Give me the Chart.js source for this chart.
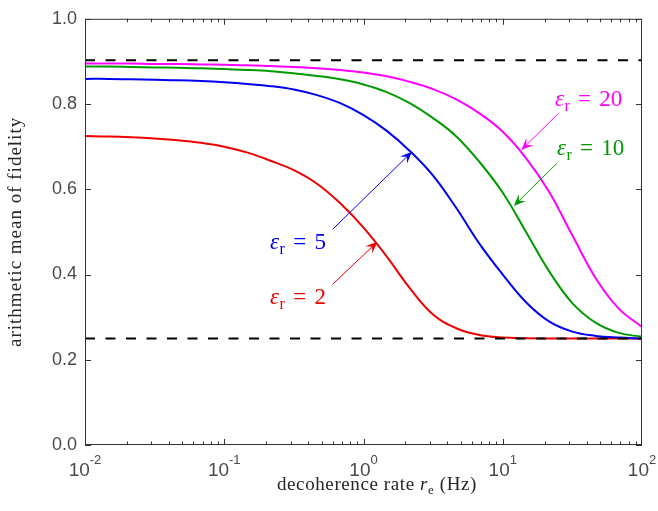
<!DOCTYPE html>
<html>
<head>
<meta charset="utf-8">
<script src="https://cdn.jsdelivr.net/npm/chart.js@4"></script>
<style>
  html, body { margin: 0; padding: 0; background: #fff; }
</style>
</head>
<body>
<canvas id="grafico" width="658" height="511"></canvas>
<script>
// dados (6 pontos por decada)
const taxas = [0.01, 0.0147, 0.0215, 0.0316, 0.0464, 0.0681,
               0.1, 0.147, 0.215, 0.316, 0.464, 0.681,
               1, 1.47, 2.15, 3.16, 4.64, 6.81,
               10, 14.7, 21.5, 31.6, 46.4, 68.1, 100];
const fidEps2  = [0.725, 0.724, 0.722, 0.719, 0.715, 0.709,
                  0.700, 0.686, 0.667, 0.645, 0.613, 0.567,
                  0.510, 0.442, 0.368, 0.306, 0.274, 0.258,
                  0.252, 0.2505, 0.250, 0.250, 0.250, 0.250, 0.250];
const fidEps5  = [0.859, 0.859, 0.858, 0.857, 0.856, 0.854,
                  0.851, 0.847, 0.842, 0.834, 0.821, 0.802,
                  0.774, 0.737, 0.690, 0.632, 0.556, 0.472,
                  0.400, 0.335, 0.290, 0.266, 0.256, 0.252, 0.250];
const fidEps10 = [0.888, 0.888, 0.887, 0.886, 0.885, 0.884,
                  0.882, 0.880, 0.877, 0.872, 0.866, 0.858,
                  0.846, 0.828, 0.802, 0.767, 0.724, 0.664,
                  0.592, 0.500, 0.408, 0.333, 0.287, 0.263, 0.254];
const fidEps20 = [0.895, 0.895, 0.895, 0.894, 0.894, 0.893,
                  0.892, 0.891, 0.889, 0.887, 0.884, 0.880,
                  0.874, 0.865, 0.852, 0.835, 0.811, 0.778,
                  0.735, 0.673, 0.594, 0.492, 0.392, 0.320, 0.277];
const limiteSup = 0.903;
const limiteInf = 0.25;

const ticksX = [0.01, 0.1, 1, 10, 100];
const expoentesX = ['-2', '-1', '0', '1', '2'];
const ticksY = [0, 0.2, 0.4, 0.6, 0.8, 1.0];

const corVermelho = '#ee0000';
const corAzul = '#0000f0';
const corVerde = '#009a00';
const corMagenta = '#ff00ff';

// rotulos com seta (coordenadas em dados)
const rotulos = [
  { valor: '20', cor: corMagenta, texto: [23.7, 0.796], cauda: [25.1, 0.778], ponta: [13.6, 0.692] },
  { valor: '10', cor: corVerde,   texto: [24.5, 0.681], cauda: [24.5, 0.661], ponta: [12.0, 0.561] },
  { valor: '5',  cor: corAzul,    texto: [0.213, 0.460], cauda: [0.60, 0.506], ponta: [2.23, 0.688] },
  { valor: '2',  cor: corVermelho, texto: [0.213, 0.331], cauda: [0.60, 0.377], ponta: [1.26, 0.477] }
];

function pontos(ys) {
  return taxas.map((x, i) => ({ x: x, y: ys[i] }));
}

function serie(ys, cor) {
  return {
    data: pontos(ys),
    borderColor: cor,
    borderWidth: 2,
    pointRadius: 0,
    tension: 0.4,
    fill: false
  };
}

function tracejada(y) {
  return {
    data: [{ x: taxas[0], y: y }, { x: taxas[taxas.length - 1], y: y }],
    borderColor: '#000',
    borderWidth: 2,
    borderDash: [10, 10.5],
    pointRadius: 0,
    fill: false
  };
}

function seta(ctx, x1, y1, x2, y2, cor) {
  const ang = Math.atan2(y2 - y1, x2 - x1);
  const L = 12, W = 5;
  ctx.strokeStyle = cor;
  ctx.lineWidth = 1;
  ctx.beginPath();
  ctx.moveTo(x1, y1);
  ctx.lineTo(x2 - Math.cos(ang) * L * 0.6, y2 - Math.sin(ang) * L * 0.6);
  ctx.stroke();
  ctx.save();
  ctx.translate(x2, y2);
  ctx.rotate(ang);
  ctx.beginPath();
  ctx.moveTo(0, 0);
  ctx.lineTo(-L, -W);
  ctx.lineTo(-L * 0.6, 0);
  ctx.lineTo(-L, W);
  ctx.closePath();
  ctx.fillStyle = cor;
  ctx.fill();
  ctx.restore();
}

function textoEps(ctx, x, y, valor, cor) {
  const S = 23;
  ctx.fillStyle = cor;
  ctx.textAlign = 'left';
  ctx.textBaseline = 'alphabetic';
  ctx.font = 'italic ' + S + 'px "Liberation Serif"';
  ctx.fillText('ε', x, y);
  let cx = x + ctx.measureText('ε').width + 0.5;
  ctx.font = Math.round(S * 0.7) + 'px "Liberation Serif"';
  ctx.fillText('r', cx, y + S * 0.22);
  cx += ctx.measureText('r').width + S * 0.36;
  ctx.font = S + 'px "Liberation Serif"';
  ctx.fillText('=', cx, y);
  cx += ctx.measureText('=').width + S * 0.36;
  ctx.fillText(valor, cx, y);
}

const eixosPlugin = {
  id: 'eixos',
  afterDatasetsDraw(chart) {
    const ctx = chart.ctx;
    const sx = chart.scales.x, sy = chart.scales.y;
    ctx.save();
    rotulos.forEach(r => {
      seta(ctx, sx.getPixelForValue(r.cauda[0]), sy.getPixelForValue(r.cauda[1]),
        sx.getPixelForValue(r.ponta[0]), sy.getPixelForValue(r.ponta[1]), r.cor);
      textoEps(ctx, sx.getPixelForValue(r.texto[0]), sy.getPixelForValue(r.texto[1]), r.valor, r.cor);
    });
    ctx.restore();
  },
  afterDraw(chart) {
    const ctx = chart.ctx;
    const a = chart.chartArea;
    const sx = chart.scales.x, sy = chart.scales.y;
    ctx.save();
    ctx.strokeStyle = '#333';
    ctx.lineWidth = 1;
    ctx.strokeRect(a.left + 0.5, a.top + 0.5, a.right - a.left - 1, a.bottom - a.top - 1);

    // ticks para dentro
    ctx.beginPath();
    for (let d = -2; d <= 1; d++) {
      for (let m = 1; m <= 9; m++) {
        const v = m * Math.pow(10, d);
        const px = Math.round(sx.getPixelForValue(v)) + 0.5;
        const len = m === 1 ? 6 : 3.5;
        ctx.moveTo(px, a.bottom); ctx.lineTo(px, a.bottom - len);
        ctx.moveTo(px, a.top); ctx.lineTo(px, a.top + len);
      }
    }
    ticksY.forEach(v => {
      const py = Math.round(sy.getPixelForValue(v)) + 0.5;
      ctx.moveTo(a.left, py); ctx.lineTo(a.left + 6, py);
      ctx.moveTo(a.right, py); ctx.lineTo(a.right - 6, py);
    });
    ctx.stroke();

    // labels do eixo x (10^n)
    ctx.fillStyle = '#4a4a4a';
    ctx.textBaseline = 'alphabetic';
    ticksX.forEach((v, i) => {
      const px = sx.getPixelForValue(v);
      ctx.font = '19px "Liberation Sans"';
      const w1 = ctx.measureText('10').width;
      ctx.font = '13px "Liberation Sans"';
      const w2 = ctx.measureText(expoentesX[i]).width;
      const x0 = px - (w1 + w2) / 2;
      ctx.textAlign = 'left';
      ctx.font = '19px "Liberation Sans"';
      ctx.fillText('10', x0, 475.5);
      ctx.font = '13px "Liberation Sans"';
      ctx.fillText(expoentesX[i], x0 + w1, 464);
    });

    // titulo do eixo x
    ctx.fillStyle = '#262626';
    ctx.letterSpacing = '0.6px';
    const partes = [
      { t: 'decoherence rate ', f: '19px "Liberation Serif"', dy: 0 },
      { t: 'r', f: 'italic 19px "Liberation Serif"', dy: 0 },
      { t: 'e', f: '13px "Liberation Serif"', dy: 4 },
      { t: ' (Hz)', f: '19px "Liberation Serif"', dy: 0 }
    ];
    let total = 0;
    partes.forEach(p => { ctx.font = p.f; p.w = ctx.measureText(p.t).width; total += p.w; });
    let cx = 377 - total / 2;
    partes.forEach(p => {
      ctx.font = p.f;
      ctx.fillText(p.t, cx, 490 + p.dy);
      cx += p.w;
    });

    // titulo do eixo y
    ctx.save();
    ctx.letterSpacing = '1px';
    ctx.translate(21, (a.top + a.bottom) / 2);
    ctx.rotate(-Math.PI / 2);
    ctx.textAlign = 'center';
    ctx.font = '19px "Liberation Serif"';
    ctx.fillText('arithmetic mean of fidelity', 0, 0);
    ctx.restore();

    ctx.restore();
  }
};

const config = {
  type: 'line',
  data: {
    datasets: [
      tracejada(limiteSup),
      tracejada(limiteInf),
      serie(fidEps20, corMagenta),
      serie(fidEps10, corVerde),
      serie(fidEps5, corAzul),
      serie(fidEps2, corVermelho)
    ]
  },
  options: {
    responsive: false,
    animation: false,
    devicePixelRatio: 1,
    layout: { padding: { top: 10, right: 16, left: 0, bottom: 0 } },
    plugins: {
      legend: { display: false },
      tooltip: { enabled: false }
    },
    scales: {
      x: {
        type: 'logarithmic',
        min: 0.01,
        max: 100,
        grid: { display: false },
        border: { display: false },
        ticks: { display: false },
        afterFit(scale) { scale.height = 66; }
      },
      y: {
        min: 0,
        max: 1,
        grid: { display: false, drawTicks: false },
        border: { display: false },
        afterBuildTicks(scale) { scale.ticks = ticksY.map(v => ({ value: v })); },
        ticks: {
          padding: 8,
          color: '#4a4a4a',
          font: { family: 'Liberation Sans', size: 18 },
          callback: v => v.toFixed(1)
        },
        afterFit(scale) { scale.width = 85; }
      }
    }
  },
  plugins: [eixosPlugin]
};

var meuGrafico = new Chart(document.getElementById('grafico'), config);
</script>
</body>
</html>
